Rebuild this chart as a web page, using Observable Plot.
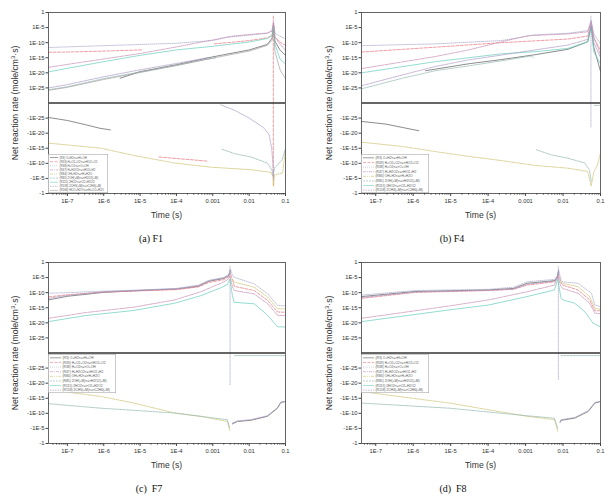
<!DOCTYPE html>
<html><head><meta charset="utf-8">
<script src="https://cdn.jsdelivr.net/npm/d3@7"></script>
<script src="https://cdn.jsdelivr.net/npm/@observablehq/plot@0.6"></script>
<style>
body{margin:0;background:#fff;}
#fig{position:relative;width:608px;height:500px;overflow:hidden;background:#fff;font-family:"Liberation Sans",Arial,sans-serif;color:#333;}
.ylab{position:absolute;transform:translate(-50%,-50%) rotate(-90deg);white-space:nowrap;font-size:8.6px;color:#333;}
.xlab{position:absolute;transform:translate(-50%,-50%);white-space:nowrap;font-size:8.6px;color:#333;}
.cap{position:absolute;transform:translate(-50%,-50%);white-space:pre;font-family:"Liberation Serif","Times New Roman",serif;font-size:10px;color:#111;}
</style>
</head><body><div id="fig"></div>
<script>
// ---- tick labels ----
const xTickValues = [1e-7, 1e-6, 1e-5, 1e-4, 1e-3, 1e-2, 1e-1];
const xTickLabels = ["1E-7", "1E-6", "1E-5", "1E-4", "0.001", "0.01", "0.1"];
const yTickValues = [1, 1e-5, 1e-10, 1e-15, 1e-20, 1e-25, -1e-25, -1e-20, -1e-15, -1e-10, -1e-5, -1];
const yTickLabels = ["1", "1E-5", "1E-10", "1E-15", "1E-20", "1E-25", "-1E-25", "-1E-20", "-1E-15", "-1E-10", "-1E-5", "-1"];

// ---- series and legend texts ----
const seriesF1 = ["R3", "R33", "R38", "R47", "R84", "R85", "R115", "R158", "R166"];
const labelsF1 = ["(R3) O+H2<=>H+OH", "(R33) H+O2+O2<=>HO2+O2", "(R38) H+O2<=>O+OH", "(R47) H+H2O2<=>HO2+H2",
  "(R84) OH+H2<=>H+H2O", "(R85) 2OH(+M)<=>H2O2(+M)", "(R115) 2HO2<=>O2+H2O2", "(R158) 2CH3(+M)<=>C2H6(+M)", "(R166) HCO+H2O<=>H+CO+H2O"];
const seriesOther = ["R3", "R33", "R38", "R47", "R84", "R85", "R115", "R158"];
const labelsOther = ["(R3) O+H2<=>H+OH", "(R33) H+O2+O2<=>HO2+O2", "(R38) H+O2<=>O+OH", "(R47) H+H2O2<=>HO2+H2",
  "(R84) OH+H2<=>H+H2O", "(R85) 2OH(+M)<=>H2O2(+M)", "(R115) 2HO2<=>O2+H2O2", "(R158) 2CH3(+M)<=>C2H6(+M)"];

// ---- data: [series, segment, log10(time s), log10(|rate|), sign] ----
const f1Rates = [
["R3","a",-7.52,-25.2,-1],["R3","a",-7.0,-24.2,-1],["R3","a",-6.5,-22.8,-1],["R3","a",-6.1,-21.6,-1],["R3","a",-5.82,-21.1,-1],
["R3","b",-5.55,-21.8,1],["R3","b",-5.0,-19.6,1],["R3","b",-4.0,-17.3,1],["R3","b",-3.0,-14.7,1],["R3","b",-2.0,-12.4,1],["R3","b",-1.5,-10.6,1],["R3","b",-1.37,-8.5,1],["R3","b",-1.33,-4.5,1],["R3","b",-1.29,-9.5,1],["R3","b",-1.15,-12.5,1],["R3","b",-1.0,-14.2,1],
["R33","a",-7.52,-13.2,1],["R33","a",-7.0,-13.1,1],["R33","a",-6.0,-12.8,1],["R33","a",-5.5,-12.6,1],["R33","a",-4.93,-12.4,1],
["R33","b",-4.48,-12.1,-1],["R33","b",-4.0,-11.6,-1],["R33","b",-3.5,-11.1,-1],["R33","b",-3.13,-10.7,-1],
["R33","c",-2.96,-10.4,1],["R33","c",-2.5,-9.9,1],["R33","c",-2.0,-9.3,1],["R33","c",-1.5,-8.4,1],["R33","c",-1.37,-7.6,1],["R33","c",-1.33,-3.8,1],["R33","c",-1.29,-8.2,1],["R33","c",-1.15,-9.8,1],["R33","c",-1.0,-10.9,1],
["R33","s",-1.335,-1.2,1],["R33","s",-1.335,-2.5,-1],
["R38","a",-7.52,-11.6,1],["R38","a",-7.0,-11.4,1],["R38","a",-6.0,-11.0,1],["R38","a",-5.0,-10.6,1],["R38","a",-4.0,-10.2,1],["R38","a",-3.0,-9.3,1],["R38","a",-2.6,-8.2,1],["R38","a",-2.0,-7.5,1],["R38","a",-1.5,-6.9,1],["R38","a",-1.37,-6.2,1],["R38","a",-1.33,-3.0,1],["R38","a",-1.29,-6.8,1],["R38","a",-1.15,-7.9,1],["R38","a",-1.0,-8.7,1],
["R47","a",-7.52,-18.2,1],["R47","a",-7.0,-17.2,1],["R47","a",-6.0,-15.4,1],["R47","a",-5.0,-13.6,1],["R47","a",-4.0,-11.4,1],["R47","a",-3.0,-9.1,1],["R47","a",-2.5,-7.9,1],["R47","a",-2.0,-7.3,1],["R47","a",-1.5,-6.8,1],["R47","a",-1.37,-6.0,1],["R47","a",-1.33,-3.5,1],["R47","a",-1.29,-8.0,1],["R47","a",-1.15,-10.5,1],["R47","a",-1.0,-12.5,1],
["R84","a",-7.52,-16.7,-1],["R84","a",-6.08,-15.0,-1],["R84","a",-5.17,-12.6,-1],["R84","a",-4.05,-10.1,-1],["R84","a",-3.04,-8.7,-1],["R84","a",-1.95,-7.9,-1],["R84","a",-1.4,-7.0,-1],["R84","a",-1.34,-5.5,-1],["R84","a",-1.33,-2.4,-1],["R84","a",-1.3,-6.2,-1],["R84","a",-1.08,-6.8,-1],["R84","a",-1.0,-14.5,-1],
["R85","a",-7.52,-25.6,1],["R85","a",-7.0,-24.6,1],["R85","a",-6.0,-21.9,1],["R85","a",-5.0,-19.7,1],["R85","a",-4.0,-17.5,1],["R85","a",-3.2,-15.6,1],["R85","a",-2.9,-15.0,1],
["R85","b",-2.75,-14.7,-1],["R85","b",-2.4,-13.2,-1],["R85","b",-1.95,-12.1,-1],["R85","b",-1.5,-10.1,-1],["R85","b",-1.38,-7.9,-1],["R85","b",-1.34,-6.0,-1],["R85","b",-1.3,-8.5,-1],["R85","b",-1.1,-11.0,-1],["R85","b",-1.0,-14.9,-1],
["R115","a",-7.52,-19.7,1],["R115","a",-7.0,-18.5,1],["R115","a",-6.0,-16.3,1],["R115","a",-5.0,-14.2,1],["R115","a",-4.0,-12.4,1],["R115","a",-3.0,-11.2,1],["R115","a",-2.0,-9.8,1],["R115","a",-1.5,-8.6,1],["R115","a",-1.37,-7.6,1],["R115","a",-1.33,-5.0,1],["R115","a",-1.29,-10.5,1],["R115","a",-1.15,-15.5,1],["R115","a",-1.0,-17.0,1],
["R158","a",-7.52,-25.0,1],["R158","a",-7.0,-23.9,1],["R158","a",-6.0,-21.3,1],["R158","a",-5.0,-19.0,1],["R158","a",-4.0,-16.9,1],["R158","a",-3.1,-14.9,1],
["R158","b",-2.78,-29.5,-1],["R158","b",-2.4,-27.6,-1],["R158","b",-2.0,-25.0,-1],["R158","b",-1.6,-21.8,-1],["R158","b",-1.45,-19.5,-1],["R158","b",-1.38,-15.0,-1],["R158","b",-1.345,-10.0,-1],["R158","b",-1.335,-5.0,-1],
["R166","a",-7.52,-25.8,1],["R166","a",-7.0,-24.8,1],["R166","a",-6.0,-22.2,1],["R166","a",-5.0,-19.9,1],["R166","a",-4.0,-17.6,1],["R166","a",-3.0,-15.1,1],["R166","a",-2.0,-12.8,1],["R166","a",-1.5,-10.9,1],["R166","a",-1.37,-9.2,1],["R166","a",-1.33,-5.5,1],["R166","a",-1.29,-13.0,1],["R166","a",-1.15,-19.0,1],["R166","a",-1.0,-21.9,1]
];

const f4Rates = [
["R3","a",-7.38,-23.9,-1],["R3","a",-6.73,-23.0,-1],["R3","a",-6.29,-21.9,-1],["R3","a",-5.85,-20.8,-1],
["R3","b",-5.67,-19.3,1],["R3","b",-4.52,-17.0,1],["R3","b",-3.64,-15.6,1],["R3","b",-2.75,-14.0,1],["R3","b",-1.87,-12.2,1],["R3","b",-1.34,-9.7,1],["R3","b",-1.25,-4.5,1],["R3","b",-1.18,-11.5,1],["R3","b",-1.0,-19.5,1],
["R33","a",-7.38,-13.1,1],["R33","a",-5.41,-11.5,1],["R33","a",-3.64,-10.0,1],["R33","a",-1.87,-8.8,1],["R33","a",-1.34,-7.8,1],["R33","a",-1.25,-3.5,1],["R33","a",-1.18,-8.5,1],["R33","a",-1.0,-12.5,1],
["R38","a",-7.38,-11.0,1],["R38","a",-5.41,-10.4,1],["R38","a",-3.64,-9.3,1],["R38","a",-2.75,-7.4,1],["R38","a",-1.87,-6.9,1],["R38","a",-1.34,-6.0,1],["R38","a",-1.25,-2.5,1],["R38","a",-1.18,-7.0,1],["R38","a",-1.0,-10.5,1],
["R38","s",-1.255,-1.2,1],["R38","s",-1.255,-22.0,-1],
["R47","a",-7.38,-18.6,1],["R47","a",-5.41,-14.6,1],["R47","a",-4.52,-12.4,1],["R47","a",-3.64,-9.7,1],["R47","a",-2.93,-7.7,1],["R47","a",-1.87,-7.1,1],["R47","a",-1.34,-6.4,1],["R47","a",-1.25,-3.0,1],["R47","a",-1.18,-8.0,1],["R47","a",-1.0,-14.0,1],
["R84","a",-7.38,-17.0,-1],["R84","a",-6.29,-15.6,-1],["R84","a",-5.41,-13.9,-1],["R84","a",-4.52,-12.3,-1],["R84","a",-3.64,-10.9,-1],["R84","a",-2.75,-9.3,-1],["R84","a",-1.87,-8.4,-1],["R84","a",-1.34,-7.3,-1],["R84","a",-1.25,-2.5,-1],["R84","a",-1.18,-7.0,-1],["R84","a",-1.08,-9.5,-1],["R84","a",-1.0,-13.4,-1],
["R85","a",-7.38,-25.3,1],["R85","a",-6.29,-21.8,1],["R85","a",-5.41,-19.3,1],["R85","a",-4.52,-17.7,1],["R85","a",-3.64,-16.0,1],["R85","a",-2.84,-14.4,1],["R85","a",-2.78,-15.2,1],
["R85","b",-2.71,-14.5,-1],["R85","b",-2.31,-12.8,-1],["R85","b",-1.87,-11.7,-1],["R85","b",-1.42,-10.1,-1],["R85","b",-1.29,-7.7,-1],["R85","b",-1.25,-4.0,-1],
["R85","c",-1.16,-29.3,-1],["R85","c",-1.0,-29.3,-1],
["R115","a",-7.38,-20.0,1],["R115","a",-5.41,-16.3,1],["R115","a",-3.64,-13.7,1],["R115","a",-2.75,-13.0,1],["R115","a",-1.87,-11.9,1],["R115","a",-1.34,-9.7,1],["R115","a",-1.25,-5.0,1],["R115","a",-1.18,-13.0,1],["R115","a",-1.0,-17.0,1],
["R158","a",-7.38,-24.3,1],["R158","a",-6.29,-20.7,1],["R158","a",-5.41,-17.9,1],["R158","a",-4.52,-15.7,1],["R158","a",-3.64,-14.1,1],["R158","a",-2.75,-12.4,1],["R158","a",-1.87,-10.8,1],["R158","a",-1.34,-8.9,1],["R158","a",-1.25,-4.0,1],["R158","a",-1.18,-10.0,1],["R158","a",-1.0,-15.0,1]
];

const f7Rates = [
["R3","a",-7.52,-12.4,1],["R3","a",-7.0,-11.2,1],["R3","a",-6.0,-9.9,1],["R3","a",-5.0,-9.3,1],["R3","a",-4.0,-8.8,1],["R3","a",-3.4,-7.9,1],["R3","a",-3.1,-6.2,1],["R3","a",-2.7,-5.3,1],["R3","a",-2.56,-4.3,1],["R3","a",-2.52,-2.6,1],
["R3","b",-2.46,-6.5,-1],["R3","b",-2.32,-7.3,-1],["R3","b",-1.95,-7.7,-1],["R3","b",-1.5,-9.0,-1],["R3","b",-1.22,-11.7,-1],["R3","b",-1.13,-13.6,-1],["R3","b",-1.0,-13.9,-1],
["R33","a",-7.52,-11.4,1],["R33","a",-7.0,-10.7,1],["R33","a",-6.0,-9.8,1],["R33","a",-5.0,-9.4,1],["R33","a",-4.0,-9.0,1],["R33","a",-3.4,-8.1,1],["R33","a",-3.1,-6.6,1],["R33","a",-2.7,-5.7,1],["R33","a",-2.56,-4.8,1],["R33","a",-2.52,-3.5,1],["R33","a",-2.45,-6.0,1],["R33","a",-2.41,-7.9,1],["R33","a",-1.86,-9.3,1],["R33","a",-1.49,-12.6,1],["R33","a",-1.22,-16.4,1],["R33","a",-1.0,-16.5,1],
["R38","a",-7.52,-10.2,1],["R38","a",-7.0,-10.0,1],["R38","a",-6.0,-9.5,1],["R38","a",-5.0,-9.1,1],["R38","a",-4.0,-8.6,1],["R38","a",-3.4,-7.5,1],["R38","a",-3.1,-5.9,1],["R38","a",-2.7,-5.0,1],["R38","a",-2.56,-4.0,1],["R38","a",-2.52,-2.2,1],["R38","a",-2.46,-4.2,1],["R38","a",-2.41,-4.9,1],["R38","a",-1.86,-7.1,1],["R38","a",-1.49,-10.4,1],["R38","a",-1.22,-14.2,1],["R38","a",-1.0,-14.4,1],
["R38","s",-2.525,-1.3,1],["R38","s",-2.525,-19.5,-1],
["R47","a",-7.52,-18.5,1],["R47","a",-6.5,-16.6,1],["R47","a",-5.17,-14.8,1],["R47","a",-4.05,-12.4,1],["R47","a",-3.33,-9.7,1],["R47","a",-2.78,-6.9,1],["R47","a",-2.6,-5.8,1],["R47","a",-2.53,-4.5,1],["R47","a",-2.46,-8.0,1],["R47","a",-2.41,-9.3,1],["R47","a",-1.86,-10.4,1],["R47","a",-1.49,-13.7,1],["R47","a",-1.22,-17.5,1],["R47","a",-1.0,-17.6,1],
["R84","a",-7.52,-17.8,-1],["R84","a",-6.08,-15.6,-1],["R84","a",-5.17,-13.4,-1],["R84","a",-4.05,-10.1,-1],["R84","a",-3.33,-9.0,-1],["R84","a",-2.6,-7.3,-1],["R84","a",-2.53,-4.1,-1],
["R84","b",-2.48,-5.5,1],["R84","b",-2.41,-6.5,1],["R84","b",-1.86,-8.2,1],["R84","b",-1.49,-11.5,1],["R84","b",-1.22,-15.3,1],["R84","b",-1.0,-15.4,1],
["R85","a",-7.52,-13.2,-1],["R85","a",-6.08,-11.7,-1],["R85","a",-5.17,-11.0,-1],["R85","a",-4.05,-10.1,-1],["R85","a",-3.33,-9.0,-1],["R85","a",-2.6,-7.9,-1],["R85","a",-2.53,-5.0,-1],
["R85","b",-2.4,-29.2,-1],["R85","b",-1.0,-29.2,-1],
["R115","a",-7.52,-19.6,1],["R115","a",-6.5,-17.6,1],["R115","a",-5.17,-15.9,1],["R115","a",-4.05,-13.5,1],["R115","a",-3.33,-11.0,1],["R115","a",-2.8,-8.5,1],["R115","a",-2.6,-7.3,1],["R115","a",-2.53,-5.5,1],["R115","a",-2.46,-11.0,1],["R115","a",-2.41,-13.2,1],["R115","a",-1.86,-13.7,1],["R115","a",-1.49,-17.5,1],["R115","a",-1.22,-21.3,1],["R115","a",-1.0,-21.4,1],
["R158","a",-7.52,-11.9,1],["R158","a",-7.0,-10.9,1],["R158","a",-6.0,-9.7,1],["R158","a",-5.0,-9.2,1],["R158","a",-4.0,-8.7,1],["R158","a",-3.4,-7.7,1],["R158","a",-3.1,-6.0,1],["R158","a",-2.7,-5.1,1],["R158","a",-2.56,-4.2,1],["R158","a",-2.52,-2.8,1],
["R158","b",-2.46,-6.8,-1],["R158","b",-2.32,-7.5,-1],["R158","b",-1.95,-7.9,-1],["R158","b",-1.5,-9.2,-1],["R158","b",-1.22,-11.9,-1],["R158","b",-1.13,-13.7,-1],["R158","b",-1.0,-14.0,-1]
];

const f8Rates = [
["R3","a",-7.38,-11.3,1],["R3","a",-5.94,-9.6,1],["R3","a",-3.99,-9.1,1],["R3","a",-3.32,-8.6,1],["R3","a",-2.96,-6.9,1],["R3","a",-2.23,-6.0,1],["R3","a",-2.15,-4.8,1],["R3","a",-2.12,-2.8,1],
["R3","b",-2.08,-7.0,-1],["R3","b",-2.05,-7.7,-1],["R3","b",-1.69,-8.4,-1],["R3","b",-1.33,-10.6,-1],["R3","b",-1.15,-13.4,-1],["R3","b",-1.0,-13.9,-1],
["R33","a",-7.38,-11.9,1],["R33","a",-5.94,-9.9,1],["R33","a",-3.99,-9.3,1],["R33","a",-3.32,-8.9,1],["R33","a",-2.96,-7.5,1],["R33","a",-2.23,-6.4,1],["R33","a",-2.15,-5.2,1],["R33","a",-2.12,-3.8,1],["R33","a",-2.06,-6.5,1],["R33","a",-2.01,-7.5,1],["R33","a",-1.6,-9.1,1],["R33","a",-1.29,-12.4,1],["R33","a",-1.15,-16.0,1],["R33","a",-1.0,-16.0,1],
["R38","a",-7.38,-10.8,1],["R38","a",-5.94,-9.3,1],["R38","a",-3.99,-8.9,1],["R38","a",-3.32,-8.2,1],["R38","a",-2.96,-6.4,1],["R38","a",-2.23,-5.6,1],["R38","a",-2.15,-4.3,1],["R38","a",-2.12,-2.3,1],["R38","a",-2.06,-5.5,1],["R38","a",-2.01,-6.4,1],["R38","a",-1.6,-6.9,1],["R38","a",-1.24,-10.2,1],["R38","a",-1.15,-14.1,1],["R38","a",-1.0,-14.6,1],
["R38","s",-2.125,-1.3,1],["R38","s",-2.125,-21.0,-1],
["R47","a",-7.38,-18.5,1],["R47","a",-5.03,-14.4,1],["R47","a",-3.99,-12.4,1],["R47","a",-2.96,-9.7,1],["R47","a",-2.23,-7.5,1],["R47","a",-2.14,-4.6,1],["R47","a",-2.06,-7.8,1],["R47","a",-2.01,-8.6,1],["R47","a",-1.6,-10.2,1],["R47","a",-1.29,-13.5,1],["R47","a",-1.15,-16.8,1],["R47","a",-1.0,-17.0,1],
["R84","a",-7.38,-17.2,-1],["R84","a",-5.03,-13.4,-1],["R84","a",-2.96,-9.0,-1],["R84","a",-2.23,-7.9,-1],["R84","a",-2.14,-4.1,-1],
["R84","b",-2.08,-6.0,1],["R84","b",-2.01,-6.9,1],["R84","b",-1.6,-8.0,1],["R84","b",-1.29,-11.3,1],["R84","b",-1.15,-15.2,1],["R84","b",-1.0,-15.5,1],
["R85","a",-7.38,-13.4,-1],["R85","a",-5.03,-11.7,-1],["R85","a",-2.96,-9.2,-1],["R85","a",-2.23,-8.4,-1],["R85","a",-2.14,-5.0,-1],
["R85","b",-2.05,-29.2,-1],["R85","b",-1.0,-29.2,-1],
["R115","a",-7.38,-19.6,1],["R115","a",-5.03,-15.7,1],["R115","a",-3.99,-14.1,1],["R115","a",-2.96,-11.3,1],["R115","a",-2.23,-9.1,1],["R115","a",-2.14,-5.5,1],["R115","a",-2.06,-11.5,1],["R115","a",-2.01,-12.4,1],["R115","a",-1.69,-13.5,1],["R115","a",-1.42,-16.3,1],["R115","a",-1.2,-20.1,1],["R115","a",-1.0,-21.4,1],
["R158","a",-7.38,-11.6,1],["R158","a",-5.94,-9.8,1],["R158","a",-3.99,-9.2,1],["R158","a",-3.32,-8.8,1],["R158","a",-2.96,-7.2,1],["R158","a",-2.23,-6.2,1],["R158","a",-2.15,-5.0,1],["R158","a",-2.12,-3.0,1],
["R158","b",-2.08,-7.2,-1],["R158","b",-2.05,-7.9,-1],["R158","b",-1.69,-8.6,-1],["R158","b",-1.33,-10.8,-1],["R158","b",-1.15,-13.6,-1],["R158","b",-1.0,-14.0,-1]
];

// ---- styles ----
const styles = {
  R3:   {stroke: "#5a5a5a", dash: null},
  R33:  {stroke: "#e8737c", dash: "3,1.5"},
  R38:  {stroke: "#a0a4c4", dash: "0.8,1.2"},
  R47:  {stroke: "#c48cb2", dash: "3,1,1,1"},
  R84:  {stroke: "#cbc26e", dash: "3,1,1,1,1,1"},
  R85:  {stroke: "#8fb4b0", dash: "2,1"},
  R115: {stroke: "#66cdbb", dash: null},
  R158: {stroke: "#a895c0", dash: "1.5,1"},
  R166: {stroke: "#a2a2a2", dash: null}
};

const panels = [
  {rates: f1Rates, series: seriesF1, labels: labelsF1, left: 0, top: 0, width: 300, ml: 48, mr: 15, lt0: -7.52, cap: "(a) F1", capX: 151, ylX: 15, legend: {x: 48, y: 154, w: 60, h: 39, fs: 2.9, sw: 8}},
  {rates: f4Rates, series: seriesOther, labels: labelsOther, left: 304, top: 0, width: 304, ml: 57, mr: 8, lt0: -7.38, cap: "(b) F4", capX: 452, ylX: 329, legend: {x: 361, y: 154, w: 68, h: 39, fs: 3.3, sw: 11}},
  {rates: f7Rates, series: seriesOther, labels: labelsOther, left: 0, top: 250, width: 300, ml: 48, mr: 15, lt0: -7.52, cap: "(c)  F7", capX: 149, ylX: 15, legend: {x: 48, y: 354, w: 68, h: 39, fs: 3.3, sw: 11}},
  {rates: f8Rates, series: seriesOther, labels: labelsOther, left: 304, top: 250, width: 304, ml: 57, mr: 8, lt0: -7.38, cap: "(d)  F8", capX: 453, ylX: 329, legend: {x: 361, y: 354, w: 68, h: 39, fs: 3.3, sw: 11}}
];

const fig = document.getElementById("fig");
const MT = 12, MB = 33, H = 226;

function minorTicks(lo) {
  const out = [];
  for (let d = -8; d <= -2; d++) for (let k = 2; k <= 9; k++) {
    const v = k * Math.pow(10, d);
    if (v >= Math.pow(10, lo) && v <= 0.1) out.push(v);
  }
  return out;
}

for (const p of panels) {
  const rows = p.rates.map(([s, seg, lt, lv, sg]) => ({s, seg, t: Math.pow(10, lt), v: sg * Math.pow(10, lv)}));
  const marks = [];
  for (const s of p.series) {
    const st = styles[s];
    marks.push(Plot.line(rows.filter(r => r.s === s), {
      x: "t", y: "v", z: "seg", stroke: st.stroke, strokeWidth: 0.7,
      strokeDasharray: st.dash || undefined
    }));
  }
  marks.push(Plot.ruleY([0], {stroke: "#333", strokeWidth: 1.3}));
  marks.push(Plot.frame({stroke: "#555", strokeWidth: 0.9}));
  marks.push(Plot.axisY({ticks: yTickValues, tickFormat: d => yTickLabels[yTickValues.indexOf(d)], tickSize: 2.5, tickPadding: 1.5, fontSize: 5.8, label: null, stroke: "#444"}));
  marks.push(Plot.axisX({ticks: xTickValues, tickFormat: d => xTickLabels[xTickValues.indexOf(d)], tickSize: 3, tickPadding: 2, fontSize: 5.8, label: null, stroke: "#444"}));
  marks.push(Plot.axisX({ticks: minorTicks(p.lt0), tickFormat: () => "", tickSize: 1.6, label: null, stroke: "#444"}));

  const chart = Plot.plot({
    width: p.width, height: H,
    marginLeft: p.ml, marginRight: p.mr, marginTop: MT, marginBottom: MB,
    style: {fontFamily: "'Liberation Sans', Arial, sans-serif", fontSize: "5.8px", color: "#333", background: "transparent"},
    x: {type: "log", domain: [Math.pow(10, p.lt0), 0.1]},
    y: {type: "symlog", constant: 1e-30, domain: [-1, 1]},
    marks
  });
  chart.style.position = "absolute";
  chart.style.left = p.left + "px";
  chart.style.top = p.top + "px";
  fig.appendChild(chart);

  const frameCx = p.left + p.ml + (p.width - p.ml - p.mr) / 2;
  const yl = document.createElement("div");
  yl.className = "ylab";
  yl.style.left = p.ylX + "px";
  yl.style.top = (p.top + MT + (H - MT - MB) / 2) + "px";
  yl.innerHTML = "Net reaction rate (mole/cm<sup style='font-size:6px'>3</sup>·s)";
  fig.appendChild(yl);

  const xl = document.createElement("div");
  xl.className = "xlab";
  xl.style.left = frameCx + "px";
  xl.style.top = (p.top + 215) + "px";
  xl.textContent = "Time (s)";
  fig.appendChild(xl);

  const cap = document.createElement("div");
  cap.className = "cap";
  cap.style.left = p.capX + "px";
  cap.style.top = (p.top + 238) + "px";
  cap.textContent = p.cap;
  fig.appendChild(cap);

  // legend
  const L = p.legend;
  const svg = d3.select(fig).append("svg")
    .attr("width", L.w).attr("height", L.h)
    .style("position", "absolute").style("left", L.x + "px").style("top", L.y + "px");
  svg.append("rect").attr("x", 0.25).attr("y", 0.25).attr("width", L.w - 0.5).attr("height", L.h - 0.5)
    .attr("fill", "#fff").attr("stroke", "#999").attr("stroke-width", 0.5);
  const rh = (L.h - 2) / p.series.length;
  const tx = 2 + L.sw + 1.5;
  const avail = L.w - tx - 1.2;
  p.series.forEach((s, i) => {
    const y = 1.5 + rh * (i + 0.5);
    const st = styles[s];
    svg.append("line").attr("x1", 2).attr("x2", 2 + L.sw).attr("y1", y).attr("y2", y)
      .attr("stroke", st.stroke).attr("stroke-width", 0.6).attr("stroke-dasharray", st.dash || null);
    const txt = svg.append("text").attr("x", tx).attr("y", y).attr("dy", "0.35em")
      .attr("font-size", L.fs).attr("fill", "#555")
      .attr("font-family", "'Liberation Sans', Arial, sans-serif")
      .text(p.labels[i]);
    const len = txt.node().getComputedTextLength();
    if (len > avail) txt.attr("textLength", avail).attr("lengthAdjust", "spacingAndGlyphs");
  });
}
</script>
</body></html>
